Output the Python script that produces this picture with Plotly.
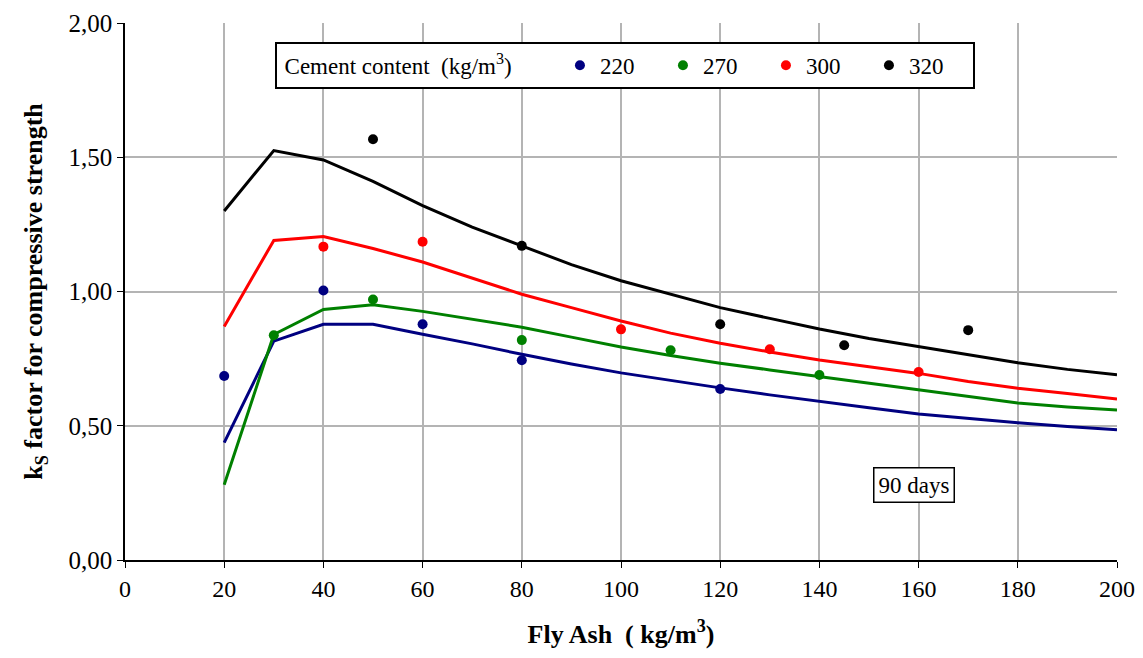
import plotly.graph_objects as go

# ---- data ----
fit_x = [20, 30, 40, 50, 60, 70, 80, 90, 100, 110, 120, 130, 140, 150, 160, 170, 180, 190, 200]
fit_220 = [0.437, 0.815, 0.878, 0.878, 0.841, 0.805, 0.766, 0.730, 0.697, 0.668, 0.641, 0.615, 0.590, 0.567, 0.544, 0.527, 0.511, 0.497, 0.485]
fit_270 = [0.280, 0.840, 0.933, 0.951, 0.926, 0.897, 0.867, 0.830, 0.793, 0.762, 0.733, 0.708, 0.683, 0.658, 0.633, 0.610, 0.585, 0.570, 0.559]
fit_300 = [0.870, 1.190, 1.205, 1.160, 1.110, 1.050, 0.990, 0.940, 0.890, 0.845, 0.807, 0.775, 0.745, 0.720, 0.695, 0.665, 0.640, 0.620, 0.600]
fit_320 = [1.300, 1.525, 1.490, 1.410, 1.320, 1.240, 1.170, 1.100, 1.040, 0.990, 0.940, 0.900, 0.860, 0.825, 0.795, 0.765, 0.735, 0.710, 0.690]

obs_220_x = [20, 40, 60, 80, 120]
obs_220_y = [0.685, 1.004, 0.878, 0.744, 0.637]
obs_270_x = [30, 50, 80, 110, 140]
obs_270_y = [0.837, 0.970, 0.819, 0.781, 0.689]
obs_300_x = [40, 60, 100, 130, 160]
obs_300_y = [1.167, 1.185, 0.859, 0.785, 0.700]
obs_320_x = [50, 80, 120, 145, 170]
obs_320_y = [1.567, 1.170, 0.878, 0.800, 0.856]

labels = ["220", "270", "300", "320"]
colors = ["#000080", "#008000", "#ff0000", "#000000"]

FONT = "Liberation Serif"

fig = go.Figure()
fits = [fit_220, fit_270, fit_300, fit_320]
obs = [(obs_220_x, obs_220_y), (obs_270_x, obs_270_y), (obs_300_x, obs_300_y), (obs_320_x, obs_320_y)]

for lab, col, fy in zip(labels, colors, fits):
    fig.add_trace(go.Scatter(x=fit_x, y=fy, mode="lines", line=dict(color=col, width=3),
                             showlegend=False, hoverinfo="skip"))
for lab, col, (ox, oy) in zip(labels, colors, obs):
    fig.add_trace(go.Scatter(x=ox, y=oy, mode="markers", name=lab,
                             marker=dict(color=col, size=10, symbol="circle")))

fig.update_layout(
    width=1135, height=650,
    margin=dict(l=117, r=26, t=15, b=98, autoexpand=False),
    paper_bgcolor="white", plot_bgcolor="white",
    separators=",.",
    font=dict(family=FONT, size=25, color="black"),
    legend=dict(
        orientation="h", x=0.151, y=0.965, xanchor="left", yanchor="top",
        bordercolor="black", borderwidth=2, bgcolor="white",
        font=dict(family=FONT, size=23),
        title=dict(text=" Cement content  (kg/m<sup>3</sup>)       ", side="left", font=dict(family=FONT, size=23)),
        entrywidth=58, itemwidth=30, tracegroupgap=0,
    ),
    annotations=[dict(x=159, y=0.281, xref="x", yref="y", text="90 days", showarrow=False,
                      bordercolor="black", borderwidth=1.5, borderpad=4, bgcolor="white",
                      font=dict(family=FONT, size=23))],
)
fig.update_xaxes(range=[0, 200], tick0=0, dtick=20, showgrid=True, gridcolor="#b4b4b4", gridwidth=1.5,
                 showline=True, linecolor="black", linewidth=1.5, ticks="outside", ticklen=6,
                 tickcolor="black", zeroline=False, tickfont=dict(size=24), ticklabeloverflow="allow",
                 title=dict(text="<b>Fly Ash  ( kg/m<sup>3</sup>)</b>", font=dict(family=FONT, size=26), standoff=24))
fig.update_yaxes(range=[0, 2], tick0=0, dtick=0.5, tickformat=".2f", showgrid=True, gridcolor="#b4b4b4",
                 gridwidth=1.5, showline=True, linecolor="black", linewidth=1.5, ticks="outside", ticklen=6,
                 tickcolor="black", zeroline=False, tickfont=dict(size=25), ticklabeloverflow="allow",
                 title=dict(text="<b>k<sub>S</sub> factor for compressive strength</b>", font=dict(family=FONT, size=26), standoff=18))

fig.write_html("out.html")
